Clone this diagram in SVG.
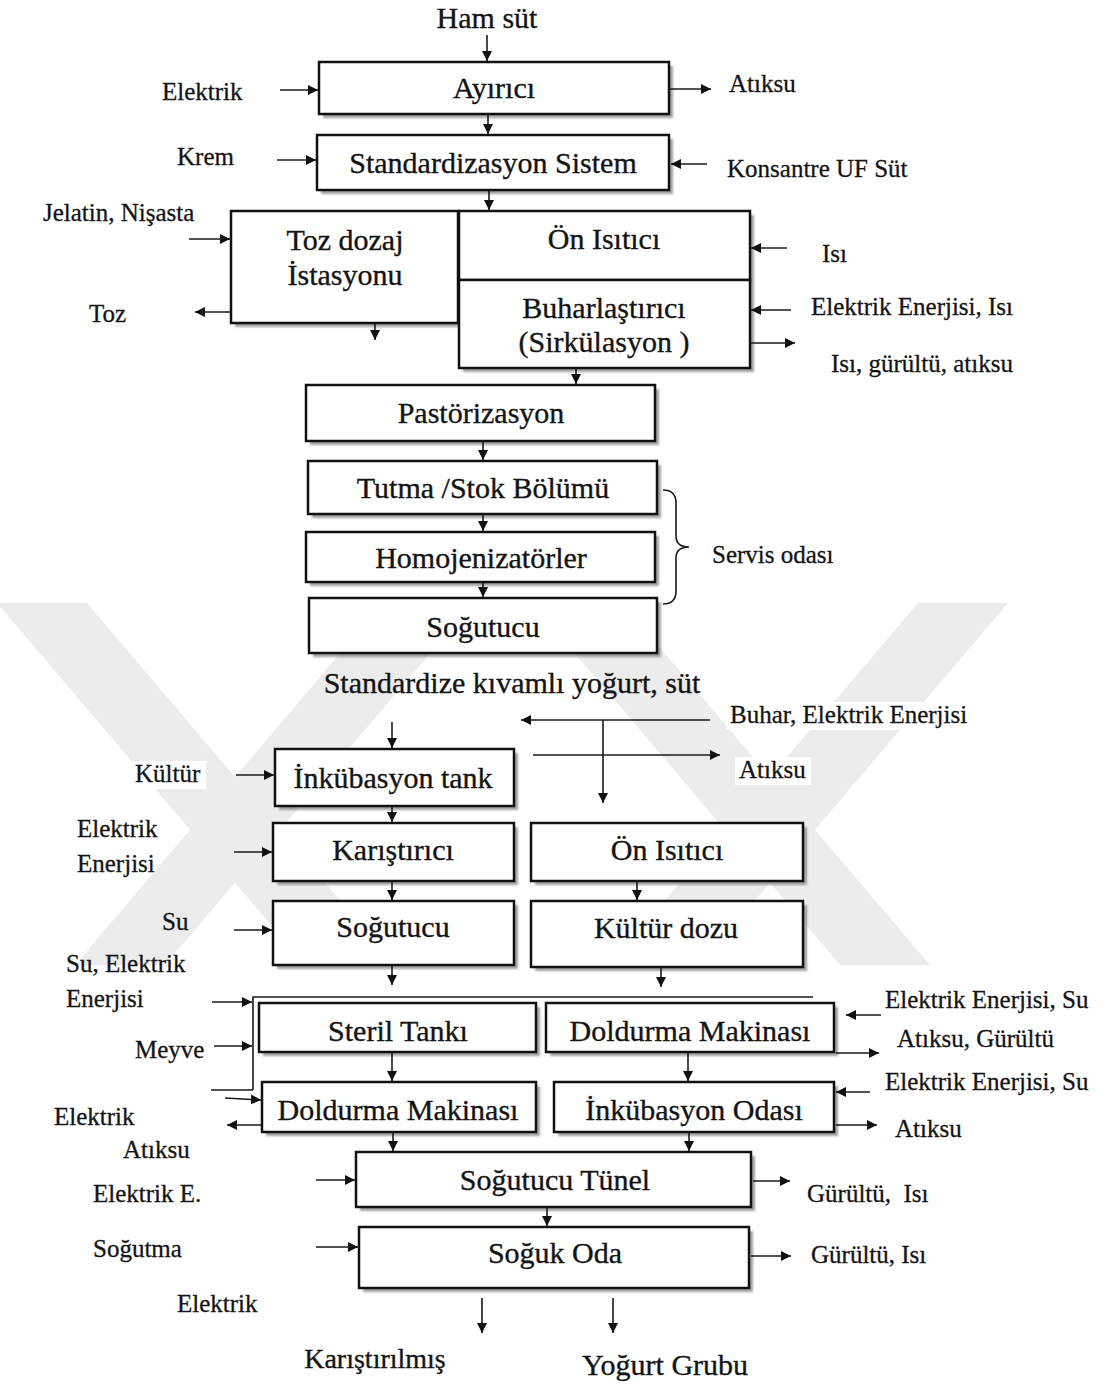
<svg xmlns="http://www.w3.org/2000/svg" width="1110" height="1385" viewBox="0 0 1110 1385">
  <defs>
    <marker id="ah" viewBox="0 0 10 10" refX="10" refY="5" markerWidth="10" markerHeight="10" markerUnits="userSpaceOnUse" orient="auto">
      <path d="M0,0 L10,5 L0,10 z" fill="#111"/>
    </marker>
    <filter id="soft" x="-5%" y="-5%" width="110%" height="110%">
      <feGaussianBlur stdDeviation="1"/>
    </filter>
  </defs>
  <style>
    .box { fill: #fff; stroke: #111; stroke-width: 2.5; }
    .sh { fill: #7a7a7a; opacity: 0.7; filter: url(#soft); }
    .t { font-family: "Liberation Serif", "Times New Roman", serif; font-size: 30px; fill: #141414; stroke: #141414; stroke-width: 0.35; text-anchor: middle; }
    .s { font-family: "Liberation Serif", "Times New Roman", serif; font-size: 25px; fill: #141414; stroke: #141414; stroke-width: 0.3; text-anchor: start; }
    .bg { fill: #fff; }
    .ln { stroke: #1a1a1a; stroke-width: 1.6; fill: none; }
    .ar { stroke: #1a1a1a; stroke-width: 1.6; fill: none; marker-end: url(#ah); }
    .wm { fill: #ececec; }
  </style>

  <rect width="1110" height="1385" fill="#fff"/>

  <!-- background emblem -->
  <g id="watermark">
    <polygon class="wm" points="-3,603 87,603 395,965 305,965"/>
    <polygon class="wm" points="383,603 473,603 165,965 75,965"/>
    <polygon class="wm" points="532,603 622,603 930,965 840,965"/>
    <polygon class="wm" points="918,603 1008,603 700,965 610,965"/>
  </g>

  <!-- box shadows -->
  <g id="shadows">
    <rect class="sh" x="323" y="66" width="350" height="52"/>
    <rect class="sh" x="321" y="139" width="352" height="55"/>
    <rect class="sh" x="235" y="215" width="227" height="112"/>
    <rect class="sh" x="463" y="215" width="291" height="157"/>
    <rect class="sh" x="310" y="389" width="349" height="56"/>
    <rect class="sh" x="312" y="465" width="349" height="53"/>
    <rect class="sh" x="310" y="536" width="349" height="50"/>
    <rect class="sh" x="313" y="602" width="348" height="55"/>
    <rect class="sh" x="279" y="753" width="239" height="57"/>
    <rect class="sh" x="277" y="827" width="241" height="58"/>
    <rect class="sh" x="535" y="827" width="272" height="58"/>
    <rect class="sh" x="277" y="905" width="241" height="64"/>
    <rect class="sh" x="535" y="905" width="272" height="66"/>
    <rect class="sh" x="263" y="1007" width="277" height="49"/>
    <rect class="sh" x="550" y="1007" width="288" height="49"/>
    <rect class="sh" x="266" y="1086" width="274" height="50"/>
    <rect class="sh" x="558" y="1086" width="280" height="50"/>
    <rect class="sh" x="360" y="1156" width="395" height="55"/>
    <rect class="sh" x="363" y="1231" width="390" height="61"/>
  </g>

  <!-- process nodes -->
  <g id="n-ayirici">
    <rect class="box" x="319" y="62" width="350" height="52"/>
    <text class="t" x="494" y="98">Ayırıcı</text>
  </g>
  <g id="n-standardizasyon">
    <rect class="box" x="317" y="135" width="352" height="55"/>
    <text class="t" x="493" y="173">Standardizasyon Sistem</text>
  </g>
  <g id="n-toz-dozaj">
    <rect class="box" x="231" y="211" width="227" height="112"/>
    <text class="t" x="345" y="250">Toz dozaj</text>
    <text class="t" x="345" y="285">İstasyonu</text>
  </g>
  <g id="n-on-isitici-1">
    <rect class="box" x="459" y="211" width="291" height="69"/>
    <text class="t" x="604" y="249">Ön Isıtıcı</text>
  </g>
  <g id="n-buharlastirici">
    <rect class="box" x="459" y="280" width="291" height="88"/>
    <text class="t" x="604" y="318">Buharlaştırıcı</text>
    <text class="t" x="604" y="352">(Sirkülasyon )</text>
  </g>
  <g id="n-pastorizasyon">
    <rect class="box" x="306" y="385" width="349" height="56"/>
    <text class="t" x="481" y="423">Pastörizasyon</text>
  </g>
  <g id="n-tutma">
    <rect class="box" x="308" y="461" width="349" height="53"/>
    <text class="t" x="483" y="498">Tutma /Stok Bölümü</text>
  </g>
  <g id="n-homojenizator">
    <rect class="box" x="306" y="532" width="349" height="50"/>
    <text class="t" x="481" y="568">Homojenizatörler</text>
  </g>
  <g id="n-sogutucu-1">
    <rect class="box" x="309" y="598" width="348" height="55"/>
    <text class="t" x="483" y="637">Soğutucu</text>
  </g>
  <g id="n-inkubasyon-tank">
    <rect class="box" x="275" y="749" width="239" height="57"/>
    <text class="t" x="393" y="788">İnkübasyon tank</text>
  </g>
  <g id="n-karistirici">
    <rect class="box" x="273" y="823" width="241" height="58"/>
    <text class="t" x="393" y="860">Karıştırıcı</text>
  </g>
  <g id="n-on-isitici-2">
    <rect class="box" x="531" y="823" width="272" height="58"/>
    <text class="t" x="667" y="860">Ön Isıtıcı</text>
  </g>
  <g id="n-sogutucu-2">
    <rect class="box" x="273" y="901" width="241" height="64"/>
    <text class="t" x="393" y="937">Soğutucu</text>
  </g>
  <g id="n-kultur-dozu">
    <rect class="box" x="531" y="901" width="272" height="66"/>
    <text class="t" x="666" y="938">Kültür dozu</text>
  </g>
  <g id="n-steril-tanki">
    <rect class="box" x="259" y="1003" width="277" height="49"/>
    <text class="t" x="398" y="1041">Steril Tankı</text>
  </g>
  <g id="n-doldurma-2">
    <rect class="box" x="546" y="1003" width="288" height="49"/>
    <text class="t" x="690" y="1041">Doldurma Makinası</text>
  </g>
  <g id="n-doldurma-1">
    <rect class="box" x="262" y="1082" width="274" height="50"/>
    <text class="t" x="398" y="1120">Doldurma Makinası</text>
  </g>
  <g id="n-inkubasyon-odasi">
    <rect class="box" x="554" y="1082" width="280" height="50"/>
    <text class="t" x="694" y="1120">İnkübasyon Odası</text>
  </g>
  <g id="n-sogutucu-tunel">
    <rect class="box" x="356" y="1152" width="395" height="55"/>
    <text class="t" x="555" y="1190">Soğutucu Tünel</text>
  </g>
  <g id="n-soguk-oda">
    <rect class="box" x="359" y="1227" width="390" height="61"/>
    <text class="t" x="555" y="1263">Soğuk Oda</text>
  </g>

  <!-- connectors -->
  <g id="connectors">
    <line class="ar" x1="487" y1="35" x2="487" y2="61"/>
    <line class="ar" x1="280" y1="90" x2="318" y2="90"/>
    <line class="ar" x1="670" y1="89" x2="711" y2="89"/>
    <line class="ar" x1="488" y1="115" x2="488" y2="134"/>
    <line class="ar" x1="277" y1="160" x2="316" y2="160"/>
    <line class="ar" x1="707" y1="164" x2="671" y2="164"/>
    <line class="ar" x1="489" y1="191" x2="489" y2="210"/>
    <line class="ar" x1="189" y1="239" x2="230" y2="239"/>
    <line class="ar" x1="230" y1="312" x2="195" y2="312"/>
    <line class="ar" x1="375" y1="324" x2="375" y2="340"/>
    <line class="ar" x1="787" y1="248" x2="751" y2="248"/>
    <line class="ar" x1="791" y1="310" x2="751" y2="310"/>
    <line class="ar" x1="751" y1="343" x2="795" y2="343"/>
    <line class="ar" x1="576" y1="369" x2="576" y2="384"/>
    <line class="ar" x1="483" y1="442" x2="483" y2="460"/>
    <line class="ar" x1="483" y1="515" x2="483" y2="531"/>
    <line class="ar" x1="483" y1="583" x2="483" y2="597"/>
    <path class="ln" d="M663,490 Q676,490 676,503 V536 Q676,547 689,547 Q676,547 676,558 V591 Q676,604 663,604"/>

    <line class="ar" x1="710" y1="720" x2="521" y2="720"/>
    <line class="ar" x1="603" y1="720" x2="603" y2="803"/>
    <line class="ar" x1="533" y1="755" x2="720" y2="755"/>
    <line class="ar" x1="392" y1="722" x2="392" y2="748"/>
    <line class="ar" x1="236" y1="775" x2="274" y2="775"/>
    <line class="ar" x1="392" y1="807" x2="392" y2="822"/>
    <line class="ar" x1="234" y1="852" x2="272" y2="852"/>
    <line class="ar" x1="392" y1="882" x2="392" y2="900"/>
    <line class="ar" x1="637" y1="882" x2="637" y2="900"/>
    <line class="ar" x1="234" y1="930" x2="272" y2="930"/>
    <line class="ar" x1="392" y1="966" x2="392" y2="985"/>
    <line class="ar" x1="661" y1="968" x2="661" y2="987"/>

    <path class="ln" d="M813,997 H253 V1090" stroke-width="2"/>
    <line class="ar" x1="212" y1="1002" x2="252" y2="1002"/>
    <line class="ar" x1="214" y1="1046" x2="252" y2="1046"/>
    <line class="ln" x1="211" y1="1090" x2="253" y2="1090"/>
    <line class="ar" x1="225" y1="1098" x2="261" y2="1100"/>
    <line class="ar" x1="261" y1="1125" x2="227" y2="1125"/>
    <line class="ar" x1="392" y1="1053" x2="392" y2="1081"/>
    <line class="ar" x1="688" y1="1053" x2="688" y2="1081"/>
    <line class="ar" x1="881" y1="1015" x2="846" y2="1015"/>
    <line class="ar" x1="836" y1="1053" x2="879" y2="1053"/>
    <line class="ar" x1="870" y1="1092" x2="836" y2="1092"/>
    <line class="ar" x1="836" y1="1125" x2="877" y2="1125"/>
    <line class="ar" x1="393" y1="1133" x2="393" y2="1151"/>
    <line class="ar" x1="689" y1="1133" x2="689" y2="1151"/>
    <line class="ar" x1="316" y1="1180" x2="355" y2="1180"/>
    <line class="ar" x1="753" y1="1181" x2="790" y2="1181"/>
    <line class="ar" x1="547" y1="1208" x2="547" y2="1226"/>
    <line class="ar" x1="316" y1="1247" x2="358" y2="1247"/>
    <line class="ar" x1="751" y1="1256" x2="791" y2="1256"/>
    <line class="ar" x1="482" y1="1298" x2="482" y2="1333"/>
    <line class="ar" x1="613" y1="1298" x2="613" y2="1333"/>
  </g>

  <!-- flow labels -->
  <g id="labels">
    <text class="t" x="487" y="28">Ham süt</text>
    <text class="s" x="162" y="100">Elektrik</text>
    <text class="s" x="729" y="92">Atıksu</text>
    <text class="s" x="177" y="165">Krem</text>
    <text class="s" x="727" y="177">Konsantre UF Süt</text>
    <text class="s" x="43" y="221">Jelatin, Nişasta</text>
    <text class="s" x="89" y="322">Toz</text>
    <text class="s" x="822" y="262">Isı</text>
    <text class="s" x="811" y="315">Elektrik Enerjisi, Isı</text>
    <text class="s" x="831" y="372">Isı, gürültü, atıksu</text>
    <text class="s" x="712" y="563">Servis odası</text>
    <text class="t" x="512" y="693">Standardize kıvamlı yoğurt, süt</text>
    <rect class="bg" x="726" y="702" width="248" height="28"/>
    <text class="s" x="730" y="723">Buhar, Elektrik Enerjisi</text>
    <rect class="bg" x="735" y="757" width="76" height="28"/>
    <text class="s" x="739" y="778">Atıksu</text>
    <rect class="bg" x="131" y="761" width="75" height="28"/>
    <text class="s" x="135" y="782">Kültür</text>
    <text class="s" x="77" y="837">Elektrik</text>
    <text class="s" x="77" y="872">Enerjisi</text>
    <text class="s" x="162" y="930">Su</text>
    <text class="s" x="66" y="972">Su, Elektrik</text>
    <text class="s" x="66" y="1007">Enerjisi</text>
    <text class="s" x="135" y="1058">Meyve</text>
    <text class="s" x="54" y="1125">Elektrik</text>
    <text class="s" x="123" y="1158">Atıksu</text>
    <text class="s" x="93" y="1202">Elektrik E.</text>
    <text class="s" x="93" y="1257">Soğutma</text>
    <text class="s" x="177" y="1312">Elektrik</text>
    <text class="s" x="885" y="1008">Elektrik Enerjisi, Su</text>
    <text class="s" x="897" y="1047">Atıksu, Gürültü</text>
    <text class="s" x="885" y="1090">Elektrik Enerjisi, Su</text>
    <text class="s" x="895" y="1137">Atıksu</text>
    <text class="s" x="807" y="1202" xml:space="preserve">Gürültü,  Isı</text>
    <text class="s" x="811" y="1263">Gürültü, Isı</text>
    <text class="t" x="375" y="1368" style="font-size:28px">Karıştırılmış</text>
    <text class="t" x="665" y="1375">Yoğurt Grubu</text>
  </g>
</svg>
